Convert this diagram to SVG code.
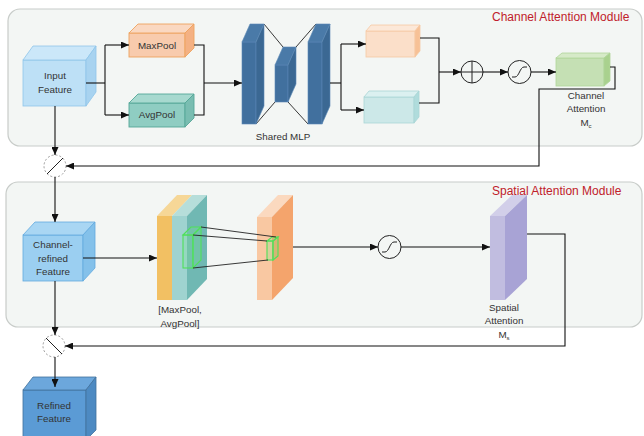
<svg xmlns="http://www.w3.org/2000/svg" width="644" height="436" viewBox="0 0 644 436">
  <style>
    .module { fill: #f3f6f4; stroke: #c8ccc9; stroke-width: 1.2; }
    .title { font-family: "Liberation Sans", Arial, sans-serif; font-size: 12px; fill: #c0202a; }
    .lbl { font-family: "Liberation Sans", Arial, sans-serif; font-size: 9.8px; fill: #333; text-anchor: middle; }
    .wire { fill: none; stroke: #111; stroke-width: 1.1; }
    .arrow { fill: none; stroke: #111; stroke-width: 1.1; marker-end: url(#head); }
    .op { fill: none; stroke: #222; stroke-width: 1; }
    .mul { fill: none; stroke: #9a9a9a; stroke-width: 1; stroke-dasharray: 2 2; }
    .mlp { fill: #41709e; stroke: #5a88b5; stroke-width: 0.6; }
    .mlp-top { fill: #4a7aa8; stroke: #5a88b5; stroke-width: 0.6; }
    .mlp-side { fill: #3b6893; stroke: #5a88b5; stroke-width: 0.6; }
    .hl { fill: rgba(120, 230, 140, 0.25); stroke: #4fe05a; stroke-width: 1.1; }
    .thin { stroke: #222; stroke-width: 0.9; fill: none; }
  </style>
  <defs>
    <marker id="head" viewBox="0 0 8 7" refX="8" refY="3.5" markerWidth="8" markerHeight="7" markerUnits="userSpaceOnUse" orient="auto">
      <path d="M0,0 L8,3.5 L0,7 z" fill="#111"/>
    </marker>
  </defs>

  <rect width="644" height="436" fill="#ffffff"/>

  <!-- module frames -->
  <g id="channel-module">
    <rect class="module" x="8" y="9" width="634" height="137" rx="12"/>
    <text class="title" x="492" y="21">Channel Attention Module</text>
  </g>
  <g id="spatial-module">
    <rect class="module" x="6" y="182" width="636" height="145" rx="12"/>
    <text class="title" x="492" y="195">Spatial Attention Module</text>
  </g>

  <!-- Input Feature -->
  <g id="input-feature">
    <rect x="23" y="60" width="63" height="46" fill="#bde0f6" stroke="#8fc5ea" stroke-width="0.8"/>
    <polygon points="23,60 33,46 96,46 86,60" fill="#cbe7f9" stroke="#8fc5ea" stroke-width="0.8"/>
    <polygon points="86,60 96,46 96,92 86,106" fill="#a8d3f0" stroke="#8fc5ea" stroke-width="0.8"/>
    <text class="lbl" x="55" y="79">Input</text>
    <text class="lbl" x="55" y="93">Feature</text>
  </g>

  <!-- MaxPool -->
  <g id="maxpool">
    <rect x="129" y="33" width="56" height="24" fill="#f8cbad" stroke="#eea35e" stroke-width="0.9"/>
    <polygon points="129,33 138,24 194,24 185,33" fill="#fad8c1" stroke="#eea35e" stroke-width="0.9"/>
    <polygon points="185,33 194,24 194,48 185,57" fill="#f4b183" stroke="#eea35e" stroke-width="0.9"/>
    <text class="lbl" x="157" y="49">MaxPool</text>
  </g>

  <!-- AvgPool -->
  <g id="avgpool">
    <rect x="129" y="103" width="56" height="24" fill="#8fcdc2" stroke="#55a797" stroke-width="0.9"/>
    <polygon points="129,103 138,94 194,94 185,103" fill="#a7d9cf" stroke="#55a797" stroke-width="0.9"/>
    <polygon points="185,103 194,94 194,118 185,127" fill="#79bdb1" stroke="#55a797" stroke-width="0.9"/>
    <text class="lbl" x="157" y="118">AvgPool</text>
  </g>

  <!-- Shared MLP -->
  <g id="shared-mlp">
    <line class="thin" x1="264" y1="24" x2="283" y2="47"/>
    <line class="thin" x1="256" y1="124" x2="275" y2="102"/>
    <line class="thin" x1="296" y1="47" x2="316" y2="24"/>
    <line class="thin" x1="288" y1="102" x2="308" y2="124"/>
    <!-- left layer -->
    <rect class="mlp" x="242" y="42" width="14" height="82"/>
    <polygon class="mlp-top" points="242,42 250,24 264,24 256,42"/>
    <polygon class="mlp-side" points="256,42 264,24 264,106 256,124"/>
    <!-- hidden layer -->
    <rect class="mlp" x="275" y="65" width="13" height="37"/>
    <polygon class="mlp-top" points="275,65 283,47 296,47 288,65"/>
    <polygon class="mlp-side" points="288,65 296,47 296,84 288,102"/>
    <!-- right layer -->
    <rect class="mlp" x="308" y="42" width="14" height="82"/>
    <polygon class="mlp-top" points="308,42 316,24 330,24 322,42"/>
    <polygon class="mlp-side" points="322,42 330,24 330,106 322,124"/>
    <text class="lbl" x="283" y="140">Shared MLP</text>
  </g>

  <!-- MLP outputs -->
  <g id="mlp-out-max">
    <rect x="366" y="31" width="49" height="26" fill="#fbdfc9" stroke="#f6c9a3" stroke-width="0.8"/>
    <polygon points="366,31 371,25 420,25 415,31" fill="#fce8d8" stroke="#f6c9a3" stroke-width="0.8"/>
    <polygon points="415,31 420,25 420,51 415,57" fill="#f7c196" stroke="#f6c9a3" stroke-width="0.8"/>
  </g>
  <g id="mlp-out-avg">
    <rect x="364" y="97" width="50" height="26" fill="#cce8e8" stroke="#aad6d6" stroke-width="0.8"/>
    <polygon points="364,97 369,91 419,91 414,97" fill="#dbf0f0" stroke="#aad6d6" stroke-width="0.8"/>
    <polygon points="414,97 419,91 419,117 414,123" fill="#b0dcdc" stroke="#aad6d6" stroke-width="0.8"/>
  </g>

  <!-- element-wise sum -->
  <g id="sum">
    <circle class="op" cx="472" cy="72" r="11"/>
    <line class="op" x1="461" y1="72" x2="483" y2="72"/>
    <line class="op" x1="472" y1="61" x2="472" y2="83"/>
  </g>

  <!-- sigmoid (channel) -->
  <g id="sigmoid-channel">
    <circle class="op" cx="519.5" cy="72" r="11.5"/>
    <path class="op" d="M512,77 L515,77 C519,77 520,67 524,67 L527,67"/>
  </g>

  <!-- Channel Attention Mc -->
  <g id="channel-attention">
    <rect x="556" y="58" width="48" height="28" fill="#c5e0b4" stroke="#b0d69a" stroke-width="0.8"/>
    <polygon points="556,58 562,53 610,53 604,58" fill="#d6eac8" stroke="#b0d69a" stroke-width="0.8"/>
    <polygon points="604,58 610,53 610,81 604,86" fill="#a9d18e" stroke="#b0d69a" stroke-width="0.8"/>
    <text class="lbl" x="586" y="99">Channel</text>
    <text class="lbl" x="586" y="112">Attention</text>
    <text class="lbl" x="586" y="126">M<tspan font-size="6" dy="1.5">c</tspan></text>
  </g>

  <!-- first product -->
  <g id="multiply-channel">
    <circle class="mul" cx="55" cy="166" r="11"/>
    <line class="op" x1="47" y1="174" x2="63" y2="158"/>
  </g>

  <!-- Channel-refined Feature -->
  <g id="channel-refined-feature">
    <rect x="23" y="235" width="60" height="46" fill="#9bcff1" stroke="#62aade" stroke-width="0.8"/>
    <polygon points="23,235 35,222 95,222 83,235" fill="#a9d6f3" stroke="#62aade" stroke-width="0.8"/>
    <polygon points="83,235 95,222 95,268 83,281" fill="#84c1ea" stroke="#62aade" stroke-width="0.8"/>
    <text class="lbl" x="53" y="248">Channel-</text>
    <text class="lbl" x="53" y="262">refined</text>
    <text class="lbl" x="53" y="275">Feature</text>
  </g>

  <!-- pooled maps [MaxPool, AvgPool] -->
  <g id="pooled-maps">
    <rect x="157" y="216" width="15" height="84" fill="#f2c063"/>
    <polygon points="157,216 177,195 192,195 172,216" fill="#f6d797"/>
    <rect x="172" y="216" width="15" height="84" fill="#9fd3d0"/>
    <polygon points="172,216 192,195 207,195 187,216" fill="#b6deda"/>
    <polygon points="187,216 207,195 207,279 187,300" fill="#70b8b3"/>
    <!-- receptive field -->
    <rect class="hl" x="183" y="235" width="10" height="33"/>
    <polygon class="hl" points="183,235 191,227 201,227 193,235"/>
    <polygon class="hl" points="193,235 201,227 201,260 193,268"/>
    <text class="lbl" x="180" y="313">[MaxPool,</text>
    <text class="lbl" x="180" y="327">AvgPool]</text>
  </g>

  <!-- conv output -->
  <g id="conv-map">
    <rect x="257" y="217" width="15" height="83" fill="#f9c8a2"/>
    <polygon points="257,217 278,195 293,195 272,217" fill="#fbd9bf"/>
    <polygon points="272,217 293,195 293,278 272,300" fill="#f4a46c"/>
    <rect class="hl" x="267" y="241" width="6" height="19"/>
    <polygon class="hl" points="267,241 272,237 278,237 273,241"/>
    <polygon class="hl" points="273,241 278,237 278,256 273,260"/>
    <line class="thin" x1="201" y1="227" x2="276" y2="237"/>
    <line class="thin" x1="193" y1="235" x2="267" y2="241"/>
    <line class="thin" x1="193" y1="268" x2="268" y2="260"/>
  </g>

  <!-- sigmoid (spatial) -->
  <g id="sigmoid-spatial">
    <circle class="op" cx="389.5" cy="247" r="11.5"/>
    <path class="op" d="M382,252 L385,252 C389,252 390,242 394,242 L397,242"/>
  </g>

  <!-- Spatial Attention Ms -->
  <g id="spatial-attention">
    <rect x="490" y="216" width="15" height="84" fill="#c1bde0"/>
    <polygon points="490,216 512,195 527,195 505,216" fill="#d2cfe9"/>
    <polygon points="505,216 527,195 527,279 505,300" fill="#a8a3d5"/>
    <text class="lbl" x="504" y="311">Spatial</text>
    <text class="lbl" x="504" y="324">Attention</text>
    <text class="lbl" x="504" y="338">M<tspan font-size="6" dy="1.5">s</tspan></text>
  </g>

  <!-- second product -->
  <g id="multiply-spatial">
    <circle class="mul" cx="54" cy="346" r="11"/>
    <line class="op" x1="46" y1="338" x2="62" y2="354"/>
  </g>

  <!-- Refined Feature -->
  <g id="refined-feature">
    <rect x="23" y="390" width="63" height="50" fill="#5b9bd5" stroke="#41719c" stroke-width="0.8"/>
    <polygon points="23,390 33,377 96,377 86,390" fill="#6ca7dc" stroke="#41719c" stroke-width="0.8"/>
    <polygon points="86,390 96,377 96,430 86,440" fill="#4d8ac2" stroke="#41719c" stroke-width="0.8"/>
    <text class="lbl" x="54" y="409">Refined</text>
    <text class="lbl" x="54" y="422">Feature</text>
  </g>

  <!-- connectors, drawn last so arrowheads sit on top of the blocks -->
  <g id="connectors">
    <!-- input split to pools -->
    <polyline class="wire" points="86,83 105,83"/>
    <polyline class="wire" points="105,45 105,115"/>
    <line class="arrow" x1="105" y1="45" x2="129" y2="45"/>
    <line class="arrow" x1="105" y1="115" x2="129" y2="115"/>
    <!-- pools merge into MLP -->
    <polyline class="wire" points="194,45 204,45 204,115 194,115"/>
    <line class="arrow" x1="204" y1="83" x2="242" y2="83"/>
    <!-- MLP split to outputs -->
    <polyline class="wire" points="330,83 341,83"/>
    <polyline class="wire" points="341,44 341,110"/>
    <line class="arrow" x1="341" y1="44" x2="366" y2="44"/>
    <line class="arrow" x1="341" y1="110" x2="364" y2="110"/>
    <!-- outputs merge into sum -->
    <polyline class="wire" points="420,38 439,38 439,103 419,103"/>
    <line class="arrow" x1="439" y1="72" x2="461" y2="72"/>
    <line class="arrow" x1="483" y1="72" x2="508" y2="72"/>
    <line class="arrow" x1="531" y1="72" x2="556" y2="72"/>
    <!-- channel attention back to first product -->
    <polyline class="arrow" points="610,67 615,67 615,89 539,89 539,166 66,166"/>
    <line class="arrow" x1="55" y1="106" x2="55" y2="155"/>
    <line class="arrow" x1="55" y1="177" x2="55" y2="222"/>
    <!-- spatial branch -->
    <line class="arrow" x1="83" y1="258" x2="157" y2="258"/>
    <line class="arrow" x1="293" y1="247" x2="378" y2="247"/>
    <line class="arrow" x1="401" y1="247" x2="490" y2="247"/>
    <polyline class="arrow" points="527,234 565,234 565,346 65,346"/>
    <line class="arrow" x1="55" y1="281" x2="55" y2="335"/>
    <line class="arrow" x1="55" y1="357" x2="55" y2="387"/>
  </g>
</svg>
